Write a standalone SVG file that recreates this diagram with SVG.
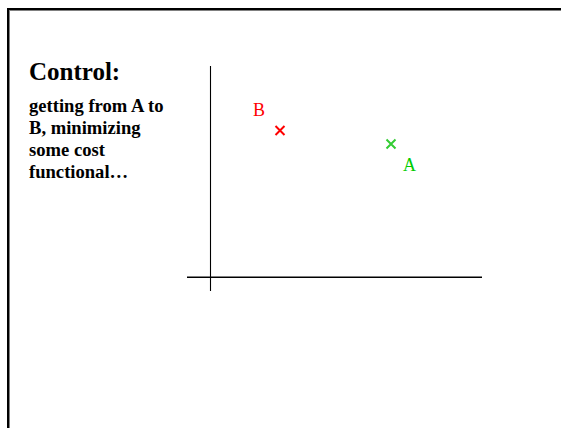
<svg xmlns="http://www.w3.org/2000/svg" width="561" height="428" viewBox="0 0 561 428">
  <style>
    .title { font-family: "Liberation Serif", "Times New Roman", serif; font-weight: bold; font-size: 25px; fill: #000; }
    .body { font-family: "Liberation Serif", "Times New Roman", serif; font-weight: bold; font-size: 18.6px; fill: #000; }
    .label { font-family: "Liberation Serif", "Times New Roman", serif; font-size: 18px; }
    .axis { stroke: #000; fill: none; }
    .mark { stroke-width: 2; fill: none; }
  </style>

  <rect width="561" height="428" fill="#fff"/>

  <!-- slide frame: black outer edge with a grey inner edge -->
  <g id="frame">
    <rect x="8" y="9" width="600" height="500" fill="none" stroke="#000" stroke-width="2"/>
    <line x1="9.5" y1="10" x2="9.5" y2="428" stroke="#808080" stroke-width="1"/>
    <line x1="9" y1="10.5" x2="561" y2="10.5" stroke="#808080" stroke-width="1"/>
  </g>

  <!-- heading and description -->
  <g id="heading">
    <text class="title" x="29" y="80">Control:</text>
  </g>
  <g id="description">
    <text class="body" x="29" y="112">getting from A to</text>
    <text class="body" x="29" y="134">B, minimizing</text>
    <text class="body" x="29" y="156">some cost</text>
    <text class="body" x="29" y="178">functional…</text>
  </g>

  <!-- coordinate axes -->
  <g id="axes">
    <line class="axis" stroke-width="1.1" x1="210.5" y1="66" x2="210.5" y2="291"/>
    <line class="axis" stroke-width="1.6" x1="187" y1="277.3" x2="482" y2="277.3"/>
  </g>

  <!-- point B (target) -->
  <g id="pointB">
    <path class="mark" stroke="#ff0000" d="M275.5 126 L284.5 135 M284.5 126 L275.5 135"/>
    <text class="label" fill="#ff0000" x="253" y="116">B</text>
  </g>

  <!-- point A (start) -->
  <g id="pointA">
    <path class="mark" stroke="#33cc33" d="M386.5 139.5 L395.5 148.5 M395.5 139.5 L386.5 148.5"/>
    <text class="label" fill="#00cc00" x="403" y="171">A</text>
  </g>
</svg>
